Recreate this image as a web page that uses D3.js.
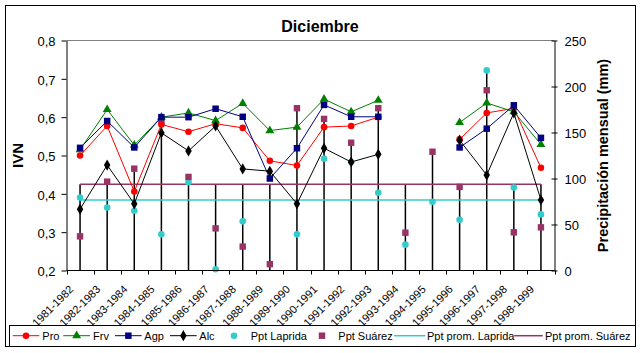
<!DOCTYPE html>
<html><head><meta charset="utf-8">
<script src="https://cdn.jsdelivr.net/npm/d3@7/dist/d3.min.js"></script>
<style>
body{margin:0;background:#fff;}
svg{display:block;font-family:Arial,"Liberation Sans",sans-serif;}
</style></head><body>
<svg id="chart" width="642" height="353"></svg>
<script>
const categories = ["1981-1982","1982-1983","1983-1984","1984-1985","1985-1986","1986-1987","1987-1988","1988-1989","1989-1990","1990-1991","1991-1992","1992-1993","1993-1994","1994-1995","1995-1996","1996-1997","1997-1998","1998-1999"];
const pro = [0.500,0.577,0.406,0.581,0.562,0.583,0.572,0.486,0.474,0.574,0.577,0.600,null,null,0.542,0.611,0.623,0.468];
const frv = [0.515,0.620,0.527,0.600,0.611,0.591,0.636,0.565,0.574,0.647,0.614,0.644,null,null,0.586,0.637,0.614,0.529];
const agp = [0.520,0.590,0.521,0.600,0.600,0.622,0.601,0.440,0.519,0.632,0.601,0.601,null,null,0.521,0.570,0.631,0.546];
const alc = [0.360,0.475,0.374,0.559,0.512,0.577,0.465,0.459,0.374,0.519,0.483,0.503,null,null,0.540,0.449,0.611,0.384];
const pptLaprida = [79.3,68.5,64.9,39.3,96.0,1.4,53.4,null,39.3,121.5,118.0,84.4,28.1,74.7,55.2,217.5,90.2,61.0];
const pptSuarez = [37.1,96.6,110.7,162.3,101.7,45.8,26.0,6.9,176.4,164.8,138.9,176.4,41.1,129.1,90.9,195.9,41.5,46.9];
const promLaprida = 76.5;
const promSuarez = 93.8;
const leftTicks = [0.2,0.3,0.4,0.5,0.6,0.7,0.8];
const rightTicks = [0,50,100,150,200,250];

const svg = d3.select("#chart");
const L = 66.5, R = 554.5, T = 40.5, B = 270.5;
const x = d3.scaleBand().domain(categories).range([L, R]).paddingInner(0).paddingOuter(0);
const cx = c => x(c) + x.bandwidth()/2;
const y = d3.scaleLinear().domain([0.2,0.8]).range([B, T]);
const y2 = d3.scaleLinear().domain([0,250]).range([B, T]);

// outer border
svg.append("rect").attr("x",5.5).attr("y",5.5).attr("width",630).attr("height",341).attr("fill","#fff").attr("stroke","#000");

// title
svg.append("text").attr("x",320).attr("y",31.5).attr("text-anchor","middle").attr("font-size",16).attr("font-weight","bold").text("Diciembre");

// plot top border
svg.append("line").attr("x1",L).attr("x2",R).attr("y1",T).attr("y2",T).attr("stroke","#808080");

const g = svg.append("g");

// drop lines (secondary group)
const dropTop = categories.map((c,i) => d3.max([pptLaprida[i], pptSuarez[i], promLaprida, promSuarez].filter(v => v!=null)));
g.selectAll(".drop").data(categories).join("line")
  .attr("x1", c=>cx(c)).attr("x2", c=>cx(c))
  .attr("y1", (c,i)=>y2(dropTop[i])).attr("y2", B)
  .attr("stroke","#000").attr("stroke-width",1.5);

// average lines
const first = categories[0], last = categories[categories.length-1];
g.append("line").attr("x1",cx(first)).attr("x2",cx(last)).attr("y1",y2(promLaprida)).attr("y2",y2(promLaprida)).attr("stroke","#33CCCC").attr("stroke-width",1.5);
g.append("line").attr("x1",cx(first)).attr("x2",cx(last)).attr("y1",y2(promSuarez)).attr("y2",y2(promSuarez)).attr("stroke","#993366").attr("stroke-width",1.5);

// ppt points
const lapPts = categories.map((c,i)=>({c, v:pptLaprida[i]})).filter(d=>d.v!=null);
g.selectAll(".lap").data(lapPts).join("circle").attr("cx",d=>cx(d.c)).attr("cy",d=>y2(d.v)).attr("r",3.3).attr("fill","#33CCCC");
const suaPts = categories.map((c,i)=>({c, v:pptSuarez[i]})).filter(d=>d.v!=null);
g.selectAll(".sua").data(suaPts).join("rect").attr("x",d=>cx(d.c)-3.2).attr("y",d=>y2(d.v)-3.2).attr("width",6.4).attr("height",6.4).attr("fill","#993366");

// marker shapes
const sym = {
  circle: d3.symbol().type(d3.symbolCircle).size(34),
  triangle: d3.symbol().type(d3.symbolTriangle).size(34),
  square: d3.symbol().type(d3.symbolSquare).size(42),
  diamond: d3.symbol().type(d3.symbolDiamond).size(36)
};
const series = [
  {name:"Pro", values:pro, color:"#FF0000", marker:"circle"},
  {name:"Frv", values:frv, color:"#008000", marker:"triangle"},
  {name:"Agp", values:agp, color:"#000080", marker:"square"},
  {name:"Alc", values:alc, color:"#000000", marker:"diamond"}
];
const lineGen = d3.line().defined(d=>d.v!=null).x(d=>cx(d.c)).y(d=>y(d.v));
series.forEach(s => {
  const pts = categories.map((c,i)=>({c, v:s.values[i]}));
  g.append("path").datum(pts).attr("d",lineGen).attr("fill","none").attr("stroke",s.color).attr("stroke-width",1);
  g.selectAll(null).data(pts.filter(d=>d.v!=null)).join("path")
    .attr("d", sym[s.marker]()).attr("transform", d=>`translate(${cx(d.c)},${y(d.v)})`).attr("fill",s.color);
});

// axes
const fmt = d => d3.format(".1f")(d).replace(".",",");
const ax = svg.append("g").attr("transform",`translate(${L},0)`)
  .call(d3.axisLeft(y).tickValues(leftTicks).tickFormat(fmt).tickSize(5).tickSizeOuter(0));
ax.selectAll("text").attr("font-size",13).attr("font-family",null).attr("fill","#000").attr("dx","-3").attr("dy","0.4em");
ax.select(".domain").attr("stroke","#000");

const ar = svg.append("g").attr("transform",`translate(${R},0)`)
  .call(d3.axisRight(y2).tickValues(rightTicks).tickSize(3).tickSizeOuter(0));
ar.selectAll(".tick line").attr("x1",-3).attr("x2",3);
ar.selectAll("text").attr("font-size",13).attr("font-family",null).attr("fill","#000").attr("x",10).attr("dy","0.4em");
ar.select(".domain").attr("stroke","#000");

// x axis
const xa = svg.append("g");
xa.append("line").attr("x1",L).attr("x2",R).attr("y1",B).attr("y2",B).attr("stroke","#000");
const bounds = categories.map(c=>x(c)).concat([R]);
xa.selectAll(".xt").data(bounds).join("line").attr("x1",d=>Math.round(d)+0.5).attr("x2",d=>Math.round(d)+0.5).attr("y1",B).attr("y2",B+4).attr("stroke","#000");
xa.selectAll(".xl").data(categories).join("text")
  .attr("transform", c=>`translate(${cx(c)-6},${290}) rotate(-45)`)
  .attr("text-anchor","end").attr("font-size",11).text(c=>c);

// axis titles
svg.append("text").attr("transform",`translate(23,${(T+B)/2}) rotate(-90)`).attr("text-anchor","middle").attr("font-size",15).attr("font-weight","bold").text("IVN");
svg.append("text").attr("transform",`translate(608,${(T+B)/2}) rotate(-90)`).attr("text-anchor","middle").attr("font-size",14.5).attr("font-weight","bold").text("Precipitación mensual (mm)");

// legend
const lg = svg.append("g");
lg.append("rect").attr("x",9.5).attr("y",325.5).attr("width",626).attr("height",21).attr("fill","#fff").attr("stroke","#000");
const ly = 335.7;
const legendItems = [
  {label:"Pro", color:"#FF0000", marker:"circle", line:true, x0:12.7, x1:39.3, tx:42.3},
  {label:"Frv", color:"#008000", marker:"triangle", line:true, x0:63.3, x1:90, tx:93},
  {label:"Agp", color:"#000080", marker:"square", line:true, x0:115, x1:141.7, tx:144.3},
  {label:"Alc", color:"#000000", marker:"diamond", line:true, x0:170, x1:196.7, tx:199.3},
  {label:"Ppt Laprida", color:"#33CCCC", marker:"circle", line:false, x0:228, x1:240, tx:250.7},
  {label:"Ppt Suárez", color:"#993366", marker:"square", line:false, x0:316, x1:328, tx:338.3},
  {label:"Ppt prom. Laprida", color:"#33CCCC", marker:null, line:true, x0:394, x1:425.3, tx:427},
  {label:"Ppt prom. Suárez", color:"#993366", marker:null, line:true, x0:514.3, x1:542.7, tx:545}
];
legendItems.forEach(it => {
  if (it.line) lg.append("line").attr("x1",it.x0).attr("x2",it.x1).attr("y1",ly).attr("y2",ly).attr("stroke",it.color).attr("stroke-width", it.marker?1:1.5);
  if (it.marker) lg.append("path").attr("d",sym[it.marker]()).attr("transform",`translate(${(it.x0+it.x1)/2},${ly})`).attr("fill",it.color);
  lg.append("text").attr("x",it.tx).attr("y",ly).attr("dy","0.36em").attr("font-size",11).text(it.label);
});
</script>
</body></html>
